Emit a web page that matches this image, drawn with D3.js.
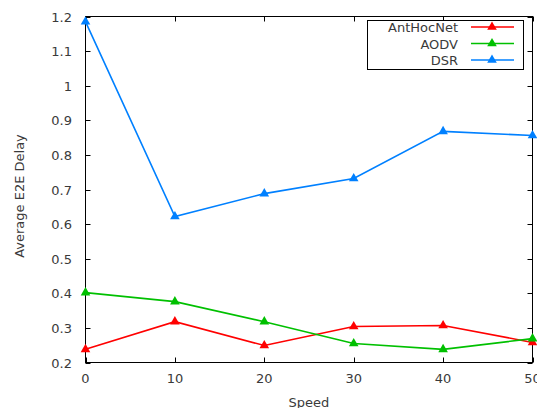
<!DOCTYPE html>
<html>
<head>
<meta charset="utf-8">
<title>Average E2E Delay vs Speed</title>
<script src="https://d3js.org/d3.v7.min.js"></script>
<style>
  body { margin: 0; background: #fff; }
  svg text { font-family: "DejaVu Sans", sans-serif; font-size: 13px; fill: #3a3a3a; }
</style>
</head>
<body>
<svg id="chart" width="537" height="408"></svg>
<script>
// data
var speeds = [0, 10, 20, 30, 40, 50]
var antHocNet = [0.238, 0.318, 0.249, 0.304, 0.307, 0.258]
var aodv = [0.402, 0.376, 0.318, 0.255, 0.238, 0.269]
var dsr = [1.185, 0.622, 0.688, 0.732, 0.868, 0.856]
var seriesNames = ["AntHocNet", "AODV", "DSR"]
var seriesColors = ["#ff0000", "#00c000", "#0080ff"]
var yTicks = [0.2, 0.3, 0.4, 0.5, 0.6, 0.7, 0.8, 0.9, 1, 1.1, 1.2]
var xTicks = [0, 10, 20, 30, 40, 50]

var series = [antHocNet, aodv, dsr]

// plot box (window.top is reserved, so use other names)
var plotL = 85.5, plotR = 532.5, plotT = 16.5, plotB = 362.5

var svg = d3.select("#chart")

var x = d3.scaleLinear().domain([0, 50]).range([plotL, plotR])
var y = d3.scaleLinear().domain([0.2, 1.2]).range([plotB, plotT])

// ticks (inside, mirrored)
var tickLen = 5
var g = svg.append("g")
yTicks.forEach(function(v){
  var yy = Math.round(y(v)) + 0.5
  g.append("line").attr("x1", plotL).attr("x2", plotL + tickLen)
    .attr("y1", yy).attr("y2", yy).attr("stroke", "#000")
  g.append("line").attr("x1", plotR).attr("x2", plotR - tickLen)
    .attr("y1", yy).attr("y2", yy).attr("stroke", "#000")
  g.append("text").attr("x", 72).attr("y", y(v) + 5)
    .attr("text-anchor", "end").text(v)
})
xTicks.forEach(function(v){
  var xx = Math.round(x(v)) + 0.5
  g.append("line").attr("y1", plotB).attr("y2", plotB - tickLen)
    .attr("x1", xx).attr("x2", xx).attr("stroke", "#000")
  g.append("line").attr("y1", plotT).attr("y2", plotT + tickLen)
    .attr("x1", xx).attr("x2", xx).attr("stroke", "#000")
  g.append("text").attr("x", x(v)).attr("y", 383)
    .attr("text-anchor", "middle").text(v)
})

// frame
svg.append("rect").attr("x", plotL).attr("y", plotT)
  .attr("width", plotR - plotL).attr("height", plotB - plotT)
  .attr("fill", "none").attr("stroke", "#000")

// axis titles
svg.append("text").attr("x", 309).attr("y", 407)
  .attr("text-anchor", "middle").text("Speed")
svg.append("text").attr("transform", "translate(24,196) rotate(-90)")
  .attr("text-anchor", "middle").text("Average E2E Delay")

var tri = d3.symbol().type(d3.symbolTriangle).size(40)

var line = d3.line()
  .x(function(d, i){ return x(speeds[i]) })
  .y(function(d){ return y(d) })

series.forEach(function(vals, k){
  svg.append("path").attr("d", line(vals))
    .attr("fill", "none").attr("stroke", seriesColors[k]).attr("stroke-width", 1.6)
  svg.selectAll(null).data(vals).enter().append("path")
    .attr("d", tri)
    .attr("transform", function(d, i){ return "translate(" + x(speeds[i]) + "," + y(d) + ")" })
    .attr("fill", seriesColors[k])
})

// legend
var leg = svg.append("g")
leg.append("rect").attr("x", 367.5).attr("y", 20.5).attr("width", 156).attr("height", 49)
  .attr("fill", "#fff").attr("stroke", "#000")
seriesNames.forEach(function(name, k){
  var ly = 27 + k * 16.5
  leg.append("text").attr("x", 458).attr("y", ly + 5)
    .attr("text-anchor", "end").text(name)
  leg.append("line").attr("x1", 471).attr("x2", 514).attr("y1", ly).attr("y2", ly)
    .attr("stroke", seriesColors[k]).attr("stroke-width", 1.6)
  leg.append("path").attr("d", tri)
    .attr("transform", "translate(492," + ly + ")").attr("fill", seriesColors[k])
})
</script>
</body>
</html>
